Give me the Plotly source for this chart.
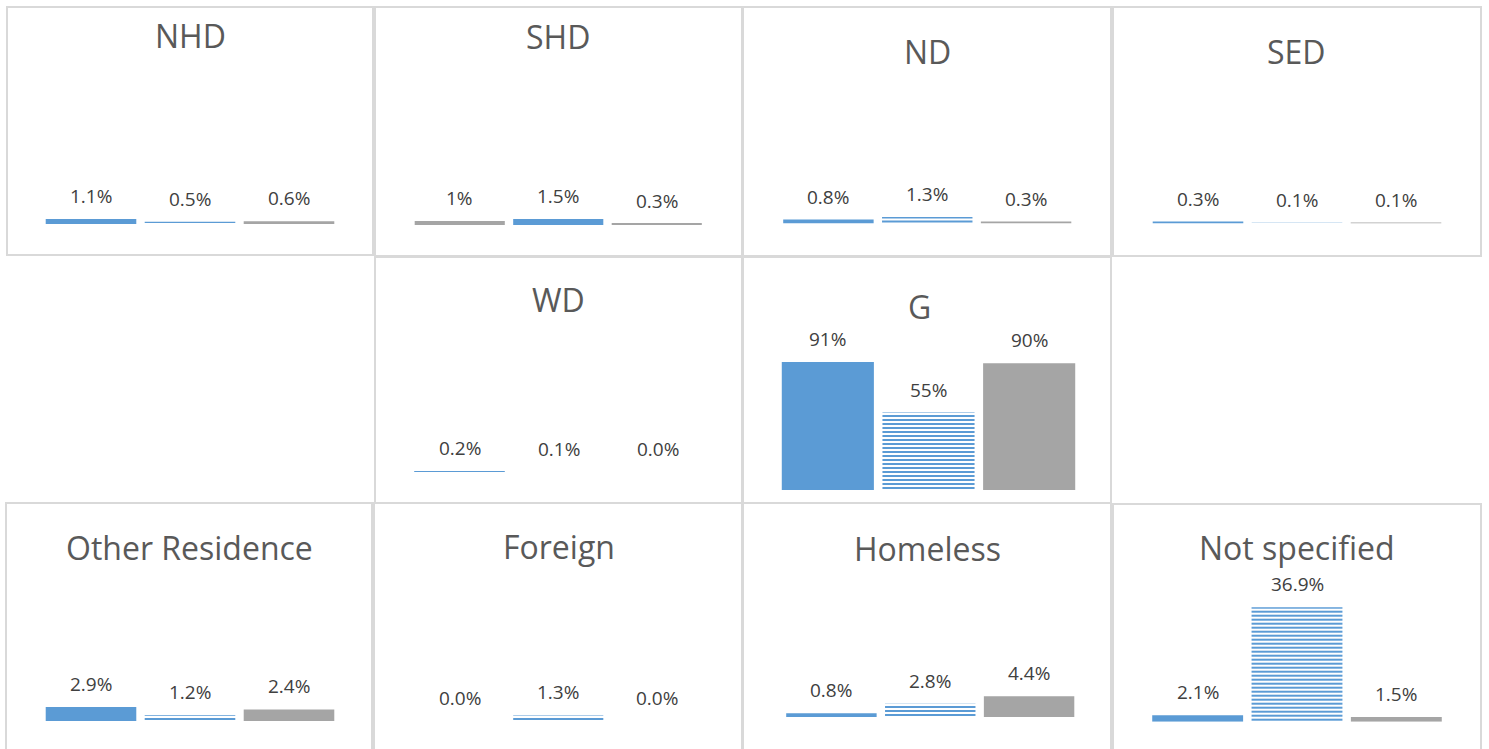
import plotly.graph_objects as go

# ---------------- data ----------------
panels = ["NHD", "SHD", "ND", "SED", "WD", "G",
          "Other Residence", "Foreign", "Homeless", "Not specified"]
categories = ["Group 1", "Group 2", "Group 3"]

nhd = [1.1, 0.5, 0.6]
shd = [1.0, 1.5, 0.3]
nd = [0.8, 1.3, 0.3]
sed = [0.3, 0.1, 0.1]
wd = [0.2, 0.1, 0.0]
g = [91, 55, 90]
other_res = [2.9, 1.2, 2.4]
foreign = [0.0, 1.3, 0.0]
homeless = [0.8, 2.8, 4.4]
not_spec = [2.1, 36.9, 1.5]
values = [nhd, shd, nd, sed, wd, g, other_res, foreign, homeless, not_spec]

labels = [
    ["1.1%", "0.5%", "0.6%"],
    ["1%", "1.5%", "0.3%"],
    ["0.8%", "1.3%", "0.3%"],
    ["0.3%", "0.1%", "0.1%"],
    ["0.2%", "0.1%", "0.0%"],
    ["91%", "55%", "90%"],
    ["2.9%", "1.2%", "2.4%"],
    ["0.0%", "1.3%", "0.0%"],
    ["0.8%", "2.8%", "4.4%"],
    ["2.1%", "36.9%", "1.5%"],
]

# ---------------- styles ----------------
BLUE = "#5B9BD5"
GRAY = "#A5A5A5"
BORDER = "#D9D9D9"
TITLE_C = "#595959"
LABEL_C = "#404040"
FONT = "Open Sans"

std_style = ["solid_blue", "striped", "gray"]
styles = [std_style, ["gray", "solid_blue", "gray"], std_style, std_style, std_style,
          std_style, std_style, std_style, std_style, std_style]

W, H = 1489, 749

# geometry per panel: border rect, plot x-extent, baseline, px per %, title center
geom = [
    dict(rect=(7, 7, 373, 255), px=(41.5, 338.5), base=224, sc=4.5, t=(190, 35)),
    dict(rect=(375, 7, 742, 256), px=(410.5, 706), base=225, sc=4.0, t=(558, 36)),
    dict(rect=(743, 7, 1111, 256), px=(779, 1075.5), base=223.5, sc=5.0, t=(927, 51)),
    dict(rect=(1113, 7, 1481, 256), px=(1148.5, 1445.5), base=223.5, sc=5.0, t=(1296, 52)),
    dict(rect=(375, 257, 742, 503), px=(410, 707), base=472, sc=5.0, t=(558.5, 299)),
    dict(rect=(743, 257, 1111, 503), px=(777.5, 1079.5), base=490, sc=1.407, t=(919, 306.5)),
    dict(rect=(6, 503, 372, 770), px=(41.5, 338.5), base=721, sc=4.8, t=(189, 547.5)),
    dict(rect=(374, 503, 742, 770), px=(410.5, 706), base=721, sc=4.3, t=(558.5, 546)),
    dict(rect=(743, 503, 1111, 770), px=(782, 1078.5), base=717, sc=4.7, t=(927.5, 548.5)),
    dict(rect=(1113, 504, 1481, 770), px=(1148, 1446), base=721.7, sc=3.1, t=(1296.5, 547.5)),
]

fig = go.Figure()
layout = dict(
    width=W, height=H,
    margin=dict(l=0, r=0, t=0, b=0),
    paper_bgcolor="white", plot_bgcolor="white",
    showlegend=False, bargap=0.085,
    font=dict(family=FONT, color=LABEL_C),
)
shapes = []
annotations = []

AX_SPAN = 200  # px height of each hidden y axis domain

for i, (name, vals, labs, sty, gm) in enumerate(zip(panels, values, labels, styles, geom)):
    n = i + 1
    xa = "x" if n == 1 else f"x{n}"
    ya = "y" if n == 1 else f"y{n}"
    xkey = "xaxis" if n == 1 else f"xaxis{n}"
    ykey = "yaxis" if n == 1 else f"yaxis{n}"

    colors = [BLUE if s in ("solid_blue", "striped") else GRAY for s in sty]
    shapes_p = ["-" if s == "striped" else "" for s in sty]

    fig.add_trace(go.Bar(
        x=categories, y=vals, xaxis=xa, yaxis=ya,
        marker=dict(
            color=colors,
            line=dict(width=0),
            pattern=dict(shape=shapes_p, fgcolor=BLUE, bgcolor="white",
                         size=4, solidity=0.5, fillmode="replace"),
        ),
        hoverinfo="skip",
    ))

    x0, x1 = gm["px"]
    base = gm["base"]
    top = base - AX_SPAN
    layout[xkey] = dict(domain=[x0 / W, x1 / W], visible=False, fixedrange=True,
                        anchor=ya, type="category", range=[-0.5, 2.5])
    layout[ykey] = dict(domain=[1 - base / H, 1 - top / H], visible=False,
                        fixedrange=True, anchor=xa, range=[0, AX_SPAN / gm["sc"]])

    # value labels
    for c, v, t in zip(categories, vals, labs):
        annotations.append(dict(
            x=c, y=v, xref=xa, yref=ya, text=t, showarrow=False,
            xanchor="center", yanchor="middle", yshift=23,
            font=dict(family=FONT, size=19, color=LABEL_C),
        ))

    # panel title
    tx, ty = gm["t"]
    annotations.append(dict(
        x=tx / W, y=1 - ty / H, xref="paper", yref="paper", text=name,
        showarrow=False, xanchor="center", yanchor="middle",
        font=dict(family=FONT, size=32, color=TITLE_C),
    ))

    # panel border
    rx0, ry0, rx1, ry1 = gm["rect"]
    shapes.append(dict(type="rect", xref="paper", yref="paper",
                       x0=rx0 / W, x1=rx1 / W, y0=1 - ry1 / H, y1=1 - ry0 / H,
                       line=dict(color=BORDER, width=2), fillcolor="rgba(0,0,0,0)",
                       layer="below"))

layout["shapes"] = shapes
layout["annotations"] = annotations
fig.update_layout(**layout)

fig.write_html(
    "out.html",
    config={"displayModeBar": False},
    post_script="document.body.style.margin='0';document.body.style.overflow='hidden';",
)
